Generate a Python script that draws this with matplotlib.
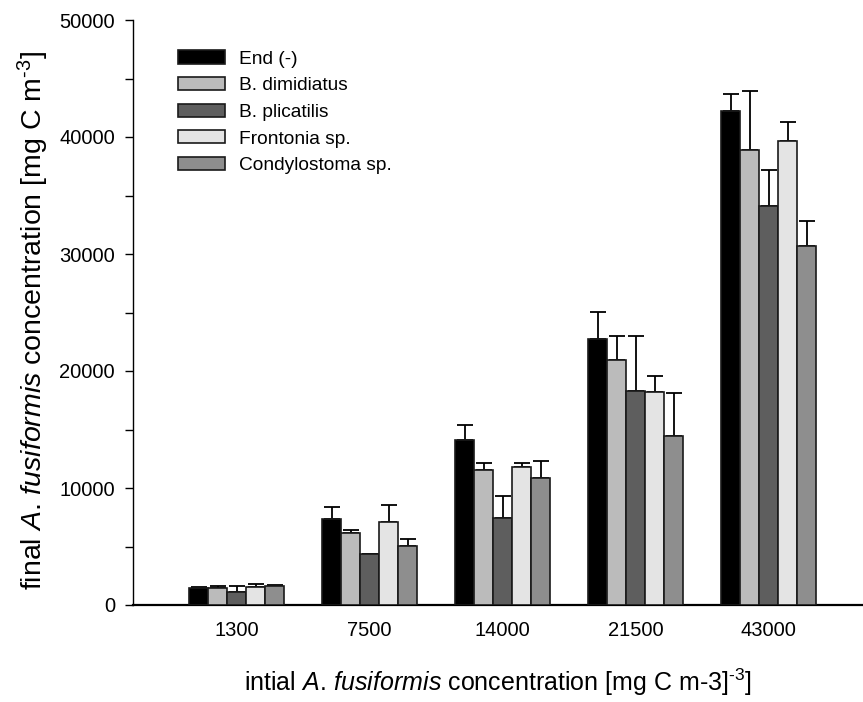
import matplotlib
matplotlib.use("Agg")
import matplotlib.pyplot as plt
import numpy as np

plt.rcParams['font.family'] = ['Liberation Sans', 'DejaVu Sans']
plt.rcParams['mathtext.fontset'] = 'custom'
plt.rcParams['mathtext.rm'] = 'Liberation Sans'
plt.rcParams['mathtext.it'] = 'Liberation Sans:italic'

categories = ['1300', '7500', '14000', '21500', '43000']
series_names = ['End (-)', 'B. dimidiatus', 'B. plicatilis', 'Frontonia sp.', 'Condylostoma sp.']
end_vals = [1430, 7380, 14130, 22770, 42200]
end_err = [140, 1020, 1280, 2270, 1470]
bdim_vals = [1430, 6130, 11570, 20900, 38850]
bdim_err = [190, 280, 590, 2060, 5050]
bplic_vals = [1140, 4390, 7460, 18280, 34130]
bplic_err = [510, 0, 1860, 4680, 3010]
front_vals = [1510, 7120, 11820, 18200, 39650]
front_err = [280, 1430, 340, 1340, 1590]
condy_vals = [1650, 5010, 10880, 14430, 30710]
condy_err = [50, 660, 1430, 3730, 2080]

values = [end_vals, bdim_vals, bplic_vals, front_vals, condy_vals]
errors = [end_err, bdim_err, bplic_err, front_err, condy_err]
colors = ['#000000', '#bbbbbb', '#5e5e5e', '#e4e4e4', '#8e8e8e']

fig = plt.figure(figsize=(8.63, 7.02), dpi=100)
ax = fig.add_axes([133/863, 1 - 605/702, 1 - 133/863, (605 - 20)/702])

x = np.arange(len(categories))
w = 0.143
for i, (vals, errs, c, name) in enumerate(zip(values, errors, colors, series_names)):
    pos = x + (i - 2) * w
    ax.bar(pos, vals, width=w, color=c, edgecolor='#1a1a1a', linewidth=1.2, label=name, zorder=3)
    ax.errorbar(pos, vals, yerr=[np.zeros(len(vals)), errs], fmt='none', ecolor='black',
                elinewidth=1.3, capsize=6, capthick=1.3, zorder=2)

ax.set_xlim(-0.78, -0.78 + 730/133)
ax.set_ylim(0, 50000)
ax.set_yticks(np.arange(0, 50001, 10000))
ax.set_yticks(np.arange(5000, 50000, 10000), minor=True)
ax.set_xticks(x)
ax.set_xticklabels(categories)
ax.tick_params(axis='x', length=0, pad=11.5, labelsize=14.5)
ax.tick_params(axis='y', which='major', length=6, width=1, pad=7, labelsize=14.5, direction='out')
ax.tick_params(axis='y', which='minor', length=6, width=1, direction='out')

ax.spines['top'].set_visible(False)
ax.spines['right'].set_visible(False)
ax.spines['left'].set_linewidth(1.0)
ax.spines['bottom'].set_linewidth(1.6)

ax.set_ylabel(r'final $\mathit{A.}\,\mathit{fusiformis}$ concentration [mg C m$^{\text{-}3}$]',
              fontsize=20.5, labelpad=5)
ax.yaxis.set_label_coords(-0.113, 0.487)
ax.set_xlabel(r'intial $\mathit{A.}\,\mathit{fusiformis}$ concentration [mg C m-3]$^{\text{-}3}$]',
              fontsize=18, labelpad=19)

leg = ax.legend(loc='upper left', bbox_to_anchor=(45/730, 1 - 30.5/585), frameon=False,
                fontsize=13.75, handlelength=2.46, handleheight=0.68, labelspacing=0.49,
                handletextpad=0.75, borderaxespad=0, borderpad=0)

fig.savefig('out.png', dpi=100)
